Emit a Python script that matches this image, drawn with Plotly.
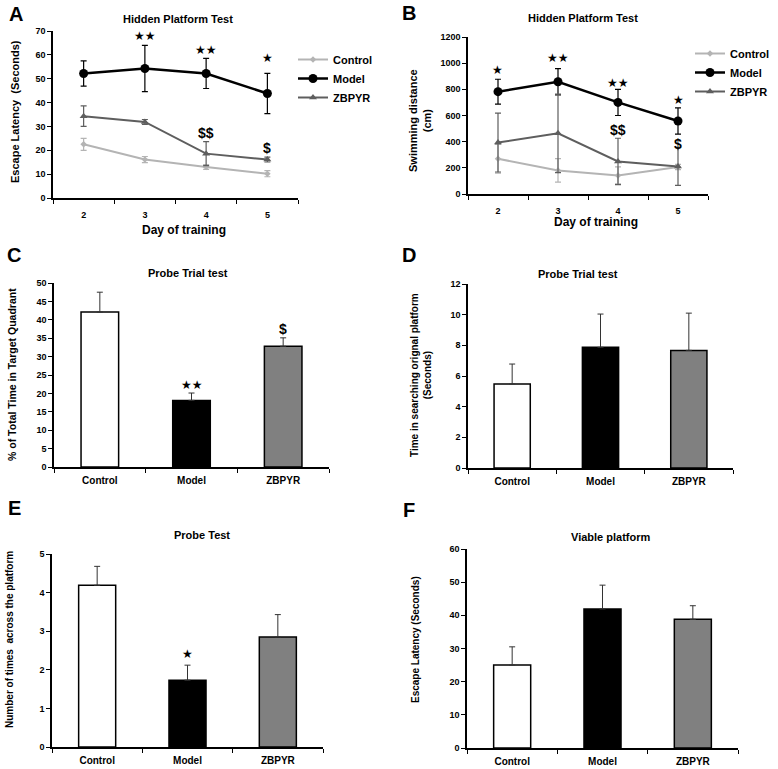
import plotly.graph_objects as go

W, H = 778, 769
FONT = "Liberation Sans, Arial, sans-serif"
STAR_FONT = "DejaVu Sans, sans-serif"

GROUPS = ["Control", "Model", "ZBPYR"]
DAYS = ["2", "3", "4", "5"]

# A - hidden platform, escape latency (s)
A_CONTROL = [22.5, 16.1, 13.0, 10.2]
A_CONTROL_ERR = [2.5, 1.3, 1.0, 1.3]
A_MODEL = [52.2, 54.3, 52.2, 43.8]
A_MODEL_ERR = [5.3, 9.7, 6.3, 8.4]
A_ZBPYR = [34.3, 31.9, 18.6, 16.1]
A_ZBPYR_ERR = [4.3, 1.0, 5.0, 1.0]
A_MODEL_SIG = ["", "★★", "★★", "★"]
A_MODEL_SIG_Y = [None, 67.8, 62.0, 58.7]
A_ZBPYR_SIG = ["", "", "$$", "$"]
A_ZBPYR_SIG_Y = [None, None, 27.4, 21.0]

# B - hidden platform, swimming distance (cm)
B_CONTROL = [269, 180, 142, 206]
B_CONTROL_ERR = [110, 90, 65, 20]
B_MODEL = [782, 858, 700, 558]
B_MODEL_ERR = [95, 100, 100, 100]
B_ZBPYR = [393, 464, 249, 211]
B_ZBPYR_ERR = [225, 300, 177, 145]
B_MODEL_SIG = ["★", "★★", "★★", "★"]
B_MODEL_SIG_Y = [947, 1043, 850, 718]
B_ZBPYR_SIG = ["", "", "$$", "$"]
B_ZBPYR_SIG_Y = [None, None, 490, 383]

# C - probe trial, % time in target quadrant
C_VALUES = [42.1, 18.1, 32.8]
C_ERR = [5.4, 2.0, 2.3]
C_SIG = ["", "★★", "$"]
C_SIG_Y = [None, 22.4, 37.5]

# D - probe trial, time searching original platform (s)
D_VALUES = [5.48, 7.87, 7.67]
D_ERR = [1.3, 2.17, 2.43]

# E - probe test, number of crossings
E_VALUES = [4.19, 1.73, 2.85]
E_ERR = [0.49, 0.39, 0.58]
E_SIG = ["", "★", ""]
E_SIG_Y = [None, 2.42, None]

# F - visible platform, escape latency (s)
F_VALUES = [25.0, 41.9, 38.8]
F_ERR = [5.5, 7.2, 4.1]

LINE_COLORS = {"Control": "#b4b4b4", "Model": "#000000", "ZBPYR": "#5e5e5e"}
BAR_COLORS = ["#ffffff", "#000000", "#808080"]


def px(x):
    return x / W


def py(y):
    return 1 - y / H


def suffix(n):
    return "" if n == 1 else str(n)


def add_axes(layout, n, box, yrange, dtick, ncat):
    """box is the plot area in pixels: left, top, right, bottom"""
    left, top, right, bottom = box
    common = dict(
        showline=True, linecolor="black", linewidth=1.5,
        ticks="outside", ticklen=4, tickwidth=1, tickcolor="black",
        showgrid=False, zeroline=False, fixedrange=True, automargin=False,
    )
    layout["xaxis" + suffix(n)] = dict(
        common,
        domain=[px(left), px(right)],
        anchor="y" + suffix(n),
        type="category",
        range=[-0.5, ncat - 0.5],
        tickson="boundaries",
        ticklabelstandoff=3 if ncat == 3 else 7,
        tickfont=dict(family=FONT, size=10 if ncat == 3 else 9, color="black", weight="bold"),
    )
    layout["yaxis" + suffix(n)] = dict(
        common,
        domain=[py(bottom), py(top)],
        anchor="x" + suffix(n),
        range=yrange,
        dtick=dtick,
        tickfont=dict(family=FONT, size=9, color="black", weight="bold"),
    )


def add_sig(annotations, n, labels, ys):
    # x is the category index, since day names look like numbers
    for i, (text, y) in enumerate(zip(labels, ys)):
        if not text:
            continue
        star = "★" in text
        annotations.append(dict(
            x=i, y=y, xref="x" + suffix(n), yref="y" + suffix(n),
            xanchor="center", yanchor="middle",
            text=text, showarrow=False,
            font=dict(family=STAR_FONT if star else FONT, size=12 if star else 14,
                      color="black", weight="bold"),
        ))


def add_text(annotations, x, y, text, size, angle=0):
    annotations.append(dict(
        x=px(x), y=py(y), xref="paper", yref="paper", text=text,
        xanchor="center", yanchor="middle",
        showarrow=False, textangle=angle,
        font=dict(family=FONT, size=size, color="black", weight="bold"),
    ))


def line_panel(fig, n, series, legend_name):
    for name, vals, errs in series:
        color = LINE_COLORS[name]
        if name == "Model":
            marker = dict(symbol="circle", size=9, color=color)
            width = 2.5
        elif name == "ZBPYR":
            marker = dict(symbol="triangle-up", size=7, color=color)
            width = 2
        else:
            marker = dict(symbol="diamond", size=5, color=color)
            width = 2
        fig.add_trace(go.Scatter(
            x=DAYS, y=vals, name=name, mode="lines+markers",
            line=dict(color=color, width=width), marker=marker,
            error_y=dict(type="data", array=errs, color=color, thickness=1.2, width=3),
            xaxis="x" + suffix(n), yaxis="y" + suffix(n), legend=legend_name,
        ))


def bar_panel(fig, n, values, errs):
    fig.add_trace(go.Bar(
        x=GROUPS, y=values, width=0.41, showlegend=False,
        marker=dict(color=BAR_COLORS, line=dict(color="black", width=1.5)),
        error_y=dict(type="data", symmetric=False, array=errs, arrayminus=[0] * len(errs),
                     color="#333333", thickness=1, width=3),
        xaxis="x" + suffix(n), yaxis="y" + suffix(n),
    ))


def main():
    fig = go.Figure()
    layout = {}
    ann = []

    # A
    line_panel(fig, 1, [("Control", A_CONTROL, A_CONTROL_ERR),
                        ("Model", A_MODEL, A_MODEL_ERR),
                        ("ZBPYR", A_ZBPYR, A_ZBPYR_ERR)], "legend")
    add_axes(layout, 1, (53, 31, 298, 198), [0, 70], 10, 4)
    add_sig(ann, 1, A_MODEL_SIG, A_MODEL_SIG_Y)
    add_sig(ann, 1, A_ZBPYR_SIG, A_ZBPYR_SIG_Y)
    add_text(ann, 16, 14, "A", 20)
    add_text(ann, 178, 19, "Hidden Platform Test", 11)
    add_text(ann, 184, 230, "Day of training", 12)
    add_text(ann, 15, 112, "Escape Latency  (Seconds)", 11, -90)

    # B
    line_panel(fig, 2, [("Control", B_CONTROL, B_CONTROL_ERR),
                        ("Model", B_MODEL, B_MODEL_ERR),
                        ("ZBPYR", B_ZBPYR, B_ZBPYR_ERR)], "legend2")
    add_axes(layout, 2, (468, 37, 708, 194), [0, 1200], 200, 4)
    add_sig(ann, 2, B_MODEL_SIG, B_MODEL_SIG_Y)
    add_sig(ann, 2, B_ZBPYR_SIG, B_ZBPYR_SIG_Y)
    add_text(ann, 409, 13, "B", 20)
    add_text(ann, 583, 18, "Hidden Platform Test", 11)
    add_text(ann, 596, 222, "Day of training", 12)
    add_text(ann, 420, 121, "Swimming distance<br>(cm)", 11, -90)

    # C
    bar_panel(fig, 3, C_VALUES, C_ERR)
    add_axes(layout, 3, (54, 283, 329, 467), [0, 50], 5, 3)
    add_sig(ann, 3, C_SIG, C_SIG_Y)
    add_text(ann, 14, 255, "C", 20)
    add_text(ann, 188, 273, "Probe Trial test", 11)
    add_text(ann, 12, 375, "% of Total Time in Target Quadrant", 10.5, -90)

    # D
    bar_panel(fig, 4, D_VALUES, D_ERR)
    add_axes(layout, 4, (468, 284, 733, 468), [0, 12], 2, 3)
    add_text(ann, 409, 255, "D", 20)
    add_text(ann, 578, 274, "Probe Trial test", 11)
    add_text(ann, 421, 375, "Time in searching orignal platform<br>(Seconds)", 10, -90)

    # E
    bar_panel(fig, 5, E_VALUES, E_ERR)
    add_axes(layout, 5, (52, 554, 323, 747), [0, 5], 1, 3)
    add_sig(ann, 5, E_SIG, E_SIG_Y)
    add_text(ann, 14, 508, "E", 20)
    add_text(ann, 202, 535, "Probe Test", 11)
    add_text(ann, 9, 640, "Number of times  across the platform", 10, -90)

    # F
    bar_panel(fig, 6, F_VALUES, F_ERR)
    add_axes(layout, 6, (467, 549, 738, 748), [0, 60], 10, 3)
    add_text(ann, 409, 510, "F", 20)
    add_text(ann, 610, 537, "Viable platform", 11)
    add_text(ann, 415, 640, "Escape Latency (Seconds)", 10, -90)

    legend_style = dict(
        font=dict(family=FONT, size=11, color="black", weight="bold"),
        bgcolor="rgba(0,0,0,0)", itemwidth=30, tracegroupgap=0,
        xanchor="left", yanchor="top", xref="paper", yref="paper",
    )
    layout["legend"] = dict(legend_style, x=px(293), y=py(45))
    layout["legend2"] = dict(legend_style, x=px(690), y=py(39))

    fig.update_layout(
        layout,
        width=W, height=H,
        margin=dict(l=0, r=0, t=0, b=0),
        paper_bgcolor="white", plot_bgcolor="white",
        annotations=ann,
        showlegend=True,
    )
    # the page body has a default 8px margin, drop it so the figure fills the window
    fig.write_html("out.html", config={"displayModeBar": False},
                   post_script="document.body.style.margin='0px';")


if __name__ == "__main__":
    main()
